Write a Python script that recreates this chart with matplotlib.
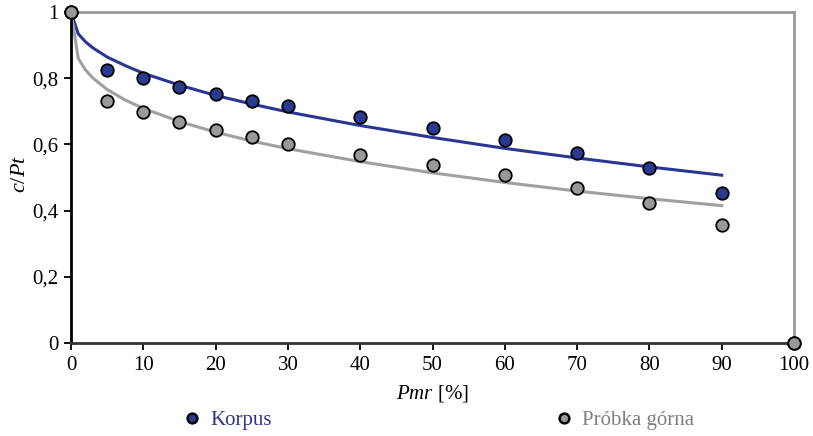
import matplotlib
matplotlib.use("Agg")
import matplotlib.pyplot as plt
from matplotlib.lines import Line2D

plt.rcParams['font.family'] = ['Liberation Serif', 'DejaVu Serif']
plt.rcParams['mathtext.fontset'] = 'custom'
plt.rcParams['mathtext.rm'] = 'Liberation Serif'
plt.rcParams['mathtext.it'] = 'Liberation Serif:italic'

# measured points
pmr = [0, 5, 10, 15, 20, 25, 30, 40, 50, 60, 70, 80, 90, 100]
korpus = [1.0, 0.825, 0.800, 0.773, 0.751, 0.731, 0.716, 0.684, 0.649, 0.613, 0.575, 0.529, 0.453, 0.0]
probka = [1.0, 0.732, 0.698, 0.668, 0.642, 0.621, 0.602, 0.569, 0.538, 0.507, 0.468, 0.424, 0.355, 0.0]

# trend curves
trend_x = [0, 1, 2, 3, 5, 7.5, 10, 15, 20, 25, 30, 40, 50, 60, 70, 80, 90]
korpus_trend = [1.0, 0.934, 0.910, 0.892, 0.864, 0.838, 0.815, 0.779, 0.748, 0.722,
                0.698, 0.657, 0.621, 0.588, 0.559, 0.532, 0.507]
probka_trend = [1.0, 0.860, 0.825, 0.801, 0.766, 0.734, 0.709, 0.669, 0.637, 0.610,
                0.587, 0.548, 0.514, 0.485, 0.459, 0.436, 0.415]

x_ticks = [0, 10, 20, 30, 40, 50, 60, 70, 80, 90, 100]
y_ticks = [0, 0.2, 0.4, 0.6, 0.8, 1.0]
y_labels = ['0', '0,2', '0,4', '0,6', '0,8', '1']

blue_line = '#2B3594'
blue_fill = '#2B3990'
gray_line = '#A0A0A0'
gray_fill = '#999999'

fig = plt.figure(figsize=(8.13, 4.36), dpi=100)
ax = fig.add_axes([71/813, 1-343/436, (794-71)/813, (343-12)/436])

ax.plot(trend_x, korpus_trend, color=blue_line, lw=2.2, zorder=2)
ax.plot(trend_x, probka_trend, color=gray_line, lw=2.2, zorder=2)
ax.plot(pmr, korpus, 'o', ms=9, mfc=blue_fill, mec='black', mew=1.3, clip_on=False, zorder=4)
ax.plot(pmr, probka, 'o', ms=9, mfc=gray_fill, mec='black', mew=1.3, clip_on=False, zorder=4)

ax.set_xlim(0, 100)
ax.set_ylim(0, 1)
ax.set_xticks(x_ticks)
ax.set_yticks(y_ticks)
ax.set_yticklabels(y_labels)
ax.tick_params(axis='both', direction='out', length=5, width=1.3, labelsize=15, color='black')
ax.tick_params(axis='x', pad=4)
ax.tick_params(axis='y', pad=4)

for s in ['top', 'right']:
    ax.spines[s].set_color('#999999')
    ax.spines[s].set_linewidth(2)
ax.spines['left'].set_color('black')
ax.spines['left'].set_linewidth(2)
ax.spines['bottom'].set_color('#333333')
ax.spines['bottom'].set_linewidth(2)

ax.set_xlabel(r'$\mathit{Pmr}$ [%]', fontsize=15, labelpad=6)
ax.set_ylabel(r'$\mathit{c/Pt}$', fontsize=16, va='center')
ax.yaxis.set_label_coords(-0.07, 0.51)

handles = [Line2D([], [], ls='none', marker='o', ms=7, mfc=blue_fill, mec='black', mew=1.8),
           Line2D([], [], ls='none', marker='o', ms=7, mfc=gray_fill, mec='black', mew=1.8)]
leg = fig.legend(handles, ['Korpus', 'Próbka górna'], ncol=2, loc='center',
                 bbox_to_anchor=(439/813, 1-420/436), frameon=False, fontsize=15,
                 handlelength=0.8, handletextpad=0.5, columnspacing=13.6)
for t, c in zip(leg.get_texts(), [blue_line, '#7f7f7f']):
    t.set_color(c)

fig.savefig('out.png', dpi=100)
